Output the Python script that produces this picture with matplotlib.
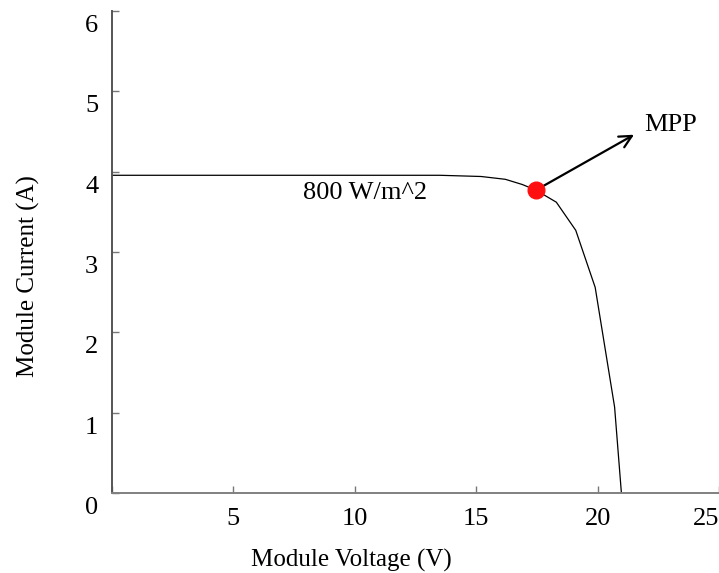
import matplotlib
matplotlib.use("Agg")
import matplotlib.pyplot as plt
import matplotlib.transforms as mtransforms

# ── Data ─────────────────────────────────────────────────────────────────────
voltage = [0.0, 13.5, 15.2, 16.2, 16.9, 17.46, 18.3, 19.1, 19.9, 20.7, 20.98]
current = [3.955, 3.955, 3.94, 3.905, 3.84, 3.77, 3.62, 3.27, 2.56, 1.07, 0.0]

mpp_v, mpp_i = 17.46, 3.77
arrow_tip = (21.5, 4.46)

x_ticks = [0, 5, 10, 15, 20, 25]
y_ticks = [0, 1, 2, 3, 4, 5, 6]
irradiance_label = "800 W/m^2"

# ── Figure ───────────────────────────────────────────────────────────────────
plt.rcParams["font.family"] = ["Liberation Serif", "DejaVu Serif"]

fig = plt.figure(figsize=(7.19, 5.73), dpi=100)
ax = fig.add_axes([0.1558, 0.1396, 0.8442, 0.8412])

ax.plot(voltage, current, color="black", linewidth=0.9)
ax.plot(mpp_v, mpp_i, "o", color="#ff1010", markersize=12, zorder=5)

ax.annotate("", xy=arrow_tip, xytext=(mpp_v, mpp_i),
            arrowprops=dict(arrowstyle="->", color="black", lw=1.6,
                            mutation_scale=22, shrinkA=0, shrinkB=0))
ax.text(21.9, 4.58, "MPP", fontsize=19, va="center", ha="left")
ax.text(7.85, 3.73, irradiance_label, fontsize=19, va="center", ha="left")

ax.set_xlim(0, 25)
ax.set_ylim(0, 6)
ax.set_xticks(x_ticks)
ax.set_xticklabels([""] + [str(t) for t in x_ticks[1:]])
ax.set_yticks(y_ticks)
ax.set_yticklabels([str(t) for t in y_ticks])

for side in ("top", "right"):
    ax.spines[side].set_visible(False)
ax.spines["left"].set_color("#555555")
ax.spines["left"].set_linewidth(1.4)
ax.spines["bottom"].set_color("#808080")
ax.spines["bottom"].set_linewidth(1.4)

ax.tick_params(direction="in", length=5, width=1.0, colors="#777777",
               labelcolor="black", labelsize=19)
ax.tick_params(axis="y", pad=10)
ax.tick_params(axis="x", pad=11)

# y labels sit a little below their ticks in the original
shift = mtransforms.ScaledTranslation(0, -9 / 72, fig.dpi_scale_trans)
for lbl in ax.get_yticklabels():
    lbl.set_transform(lbl.get_transform() + shift)
ax.get_xticklabels()[-1].set_ha("right")

ax.set_xlabel("Module Voltage (V)", fontsize=18, va="center")
ax.set_ylabel("Module Current (A)", fontsize=18, va="center")
ax.xaxis.set_label_coords(0.395, -0.139)
ax.yaxis.set_label_coords(-0.138, 0.45)

fig.savefig("out.png", dpi=100, facecolor="white")
plt.close(fig)
